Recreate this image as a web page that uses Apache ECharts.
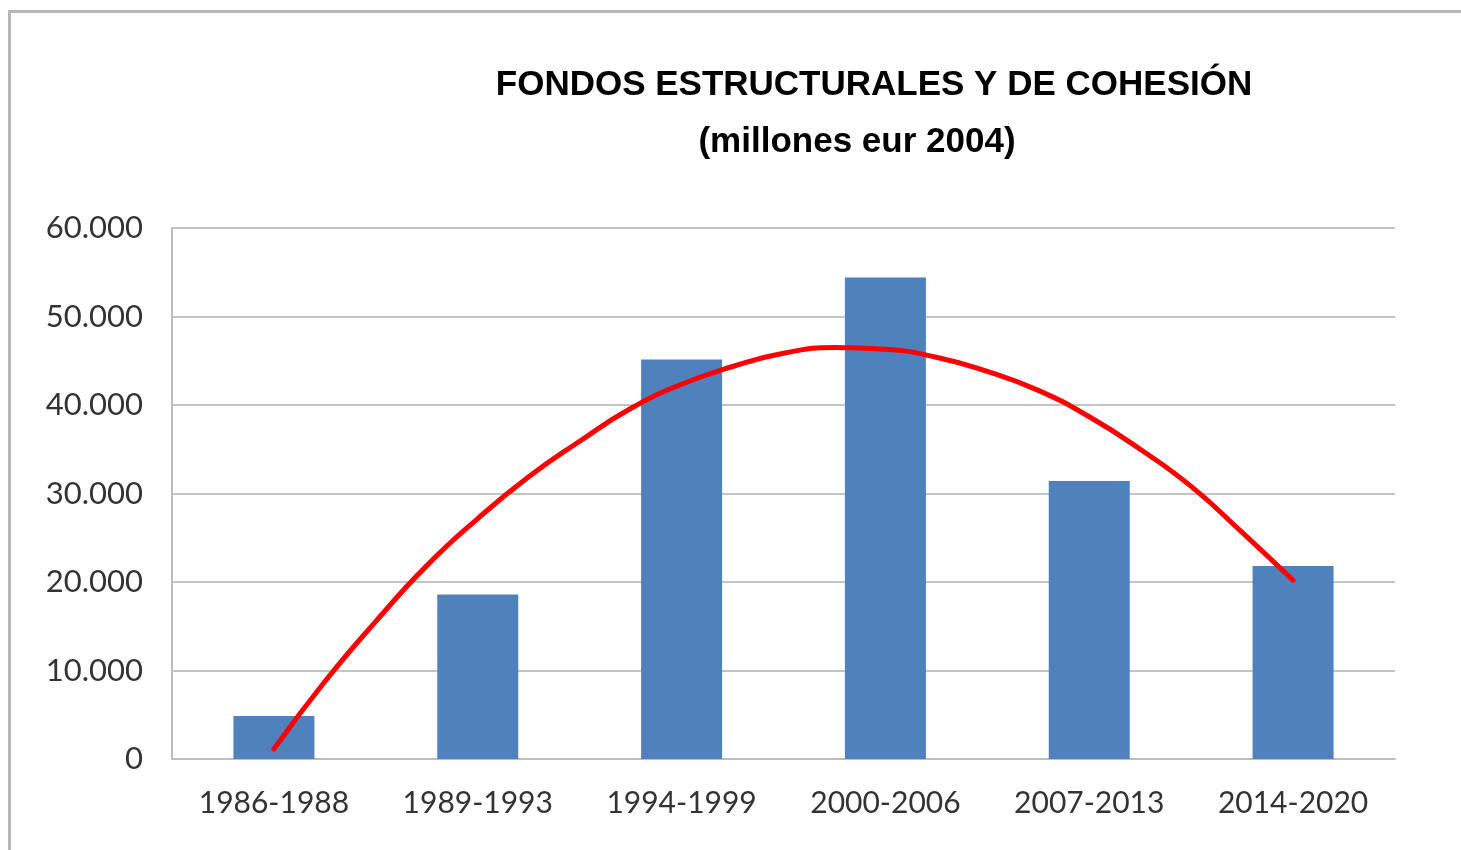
<!DOCTYPE html>
<html>
<head>
<meta charset="utf-8">
<title>Fondos estructurales y de cohesión</title>
<script src="https://cdn.jsdelivr.net/npm/echarts@6/dist/echarts.min.js"></script>
<style>
  html, body { margin: 0; padding: 0; background: #fff; }
  #chart { position: absolute; left: 0; top: 0; width: 1461px; height: 850px; }
  .frame {
    position: absolute; left: 8px; top: 10px; right: 0; bottom: 0;
    border-left: 3px solid #b8b8b8; border-top: 3px solid #b8b8b8;
    pointer-events: none;
  }
</style>
</head>
<body>
<div id="chart"></div>
<div class="frame"></div>
<script>
// periodos de programación
var periods = ['1986-1988', '1989-1993', '1994-1999', '2000-2006', '2007-2013', '2014-2020']
// millones de euros 2004
var funds = [4850, 18600, 45150, 54400, 31400, 21800]
// curva roja dibujada a mano: posición (índice de periodo) y valor
var trendPos = [0, 0.25, 0.5, 0.75, 1, 1.25, 1.5, 1.75, 2, 2.25, 2.5, 2.75, 3, 3.25, 3.5, 3.75, 4, 4.25, 4.5, 4.75, 5]
var trendVal = [1130, 8750, 15550, 21850, 27170, 31890, 35900, 39600, 42350, 44350, 45850, 46500, 46300, 45400, 43800, 41650, 38670, 35000, 30800, 25600, 20190]

var titleText = 'FONDOS ESTRUCTURALES Y DE COHESIÓN'
var subtitleText = '(millones eur 2004)'

function thousands (v) {
  return String(v).replace(/\B(?=(\d{3})+(?!\d))/g, '.')
}

var chart = echarts.init(document.getElementById('chart'))
chart.setOption({
  animation: false,
  graphic: [
    {
      type: 'text',
      x: 874,
      y: 85,
      style: {
        text: titleText,
        textAlign: 'center',
        textVerticalAlign: 'middle',
        font: 'bold 35px "Liberation Sans", Arial, sans-serif',
        fill: '#000'
      }
    },
    {
      type: 'text',
      x: 857,
      y: 142,
      style: {
        text: subtitleText,
        textAlign: 'center',
        textVerticalAlign: 'middle',
        font: 'bold 35px "Liberation Sans", Arial, sans-serif',
        fill: '#000'
      }
    }
  ],
  grid: {
    left: 172,
    right: 66,
    top: 228,
    bottom: 91
  },
  xAxis: [
    {
      type: 'category',
      data: periods,
      axisLine: { lineStyle: { color: '#bdbdbd', width: 2 } },
      axisTick: { show: false },
      axisLabel: {
        color: '#333',
        fontFamily: 'Lato',
        fontSize: 30,
        margin: 29
      }
    },
    {
      // eje auxiliar para la curva: mismo ancho que las categorías
      type: 'value',
      min: -0.5,
      max: 5.5,
      show: false
    }
  ],
  yAxis: {
    type: 'value',
    min: 0,
    max: 60000,
    interval: 10000,
    axisLine: { show: true, onZero: false, lineStyle: { color: '#bdbdbd', width: 2 } },
    axisTick: { show: false },
    splitLine: { lineStyle: { color: '#c4c4c4', width: 2 } },
    axisLabel: {
      color: '#333',
      fontFamily: 'Lato',
      fontSize: 31,
      margin: 29,
      formatter: thousands
    }
  },
  series: [
    {
      name: 'Fondos',
      type: 'bar',
      data: funds,
      barWidth: 81,
      itemStyle: { color: '#4f81bd' }
    },
    {
      name: 'Tendencia',
      type: 'line',
      xAxisIndex: 1,
      data: trendPos.map(function (p, i) { return [p, trendVal[i]] }),
      smooth: 0.5,
      showSymbol: false,
      lineStyle: { color: '#ff0000', width: 5, cap: 'round' },
      z: 5
    }
  ]
})
</script>
</body>
</html>
